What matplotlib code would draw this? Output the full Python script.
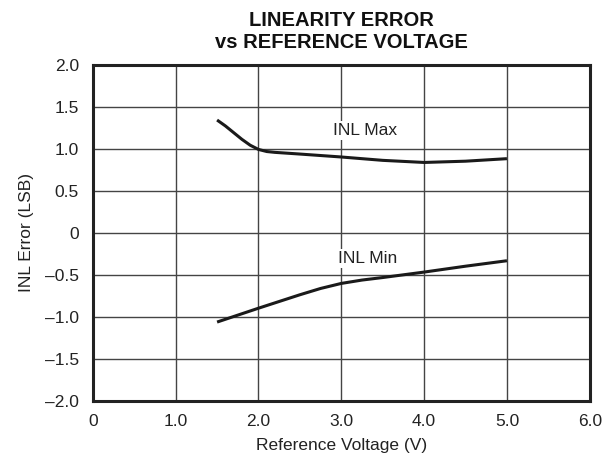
import matplotlib
matplotlib.use("Agg")
import matplotlib.pyplot as plt

plt.rcParams['font.family'] = ['Liberation Sans', 'DejaVu Sans']

# INL Max curve
max_v   = [1.5, 1.6, 1.7, 1.8, 1.9, 2.0, 2.1, 2.2, 2.5, 3.0, 3.5, 4.0, 4.5, 5.0]
max_inl = [1.34, 1.27, 1.19, 1.11, 1.04, 0.99, 0.965, 0.955, 0.935, 0.90, 0.86, 0.835, 0.85, 0.88]

# INL Min curve
min_v   = [1.5, 2.0, 2.5, 2.75, 3.0, 3.25, 3.5, 4.0, 4.5, 5.0]
min_inl = [-1.065, -0.90, -0.74, -0.665, -0.605, -0.565, -0.535, -0.47, -0.40, -0.335]

xticks      = [0, 1, 2, 3, 4, 5, 6]
xticklabels = ['0', '1.0', '2.0', '3.0', '4.0', '5.0', '6.0']
yticks      = [-2.0, -1.5, -1.0, -0.5, 0, 0.5, 1.0, 1.5, 2.0]
yticklabels = ['\u20132.0', '\u20131.5', '\u20131.0', '\u20130.5', '0', '0.5', '1.0', '1.5', '2.0']

fig = plt.figure(figsize=(6.03, 4.68), dpi=100)
ax = fig.add_axes([0.154, 0.144, 0.824, 0.718])

ax.plot(max_v, max_inl, color='#1a1a1a', lw=2.2, solid_capstyle='butt')
ax.plot(min_v, min_inl, color='#1a1a1a', lw=2.2, solid_capstyle='butt')

ax.set_xlim(0, 6)
ax.set_ylim(-2, 2)
ax.set_xticks(xticks)
ax.set_xticklabels(xticklabels)
ax.set_yticks(yticks)
ax.set_yticklabels(yticklabels)
ax.tick_params(length=0, labelsize=12.5, colors='#222222', pad=10)
ax.grid(True, color='#444444', lw=1.0)
ax.set_axisbelow(True)
for s in ax.spines.values():
    s.set_linewidth(2.2)
    s.set_color('#222222')

ax.text(3.29, 1.22, 'INL Max', ha='center', va='center', fontsize=12.5, color='#222222',
        bbox=dict(facecolor='white', edgecolor='none', pad=1.5))
ax.text(3.32, -0.305, 'INL Min', ha='center', va='center', fontsize=12.5, color='#222222',
        bbox=dict(facecolor='white', edgecolor='none', pad=1.5))

ax.set_xlabel('Reference Voltage (V)', fontsize=12.5, color='#222222', labelpad=6)
ax.set_ylabel('INL Error (LSB)', fontsize=12.5, color='#222222', labelpad=8)
ax.set_title('LINEARITY ERROR\nvs REFERENCE VOLTAGE', fontsize=14.5, fontweight='bold',
             color='#111111', linespacing=1.2, pad=12)

fig.savefig('out.png', dpi=100)
